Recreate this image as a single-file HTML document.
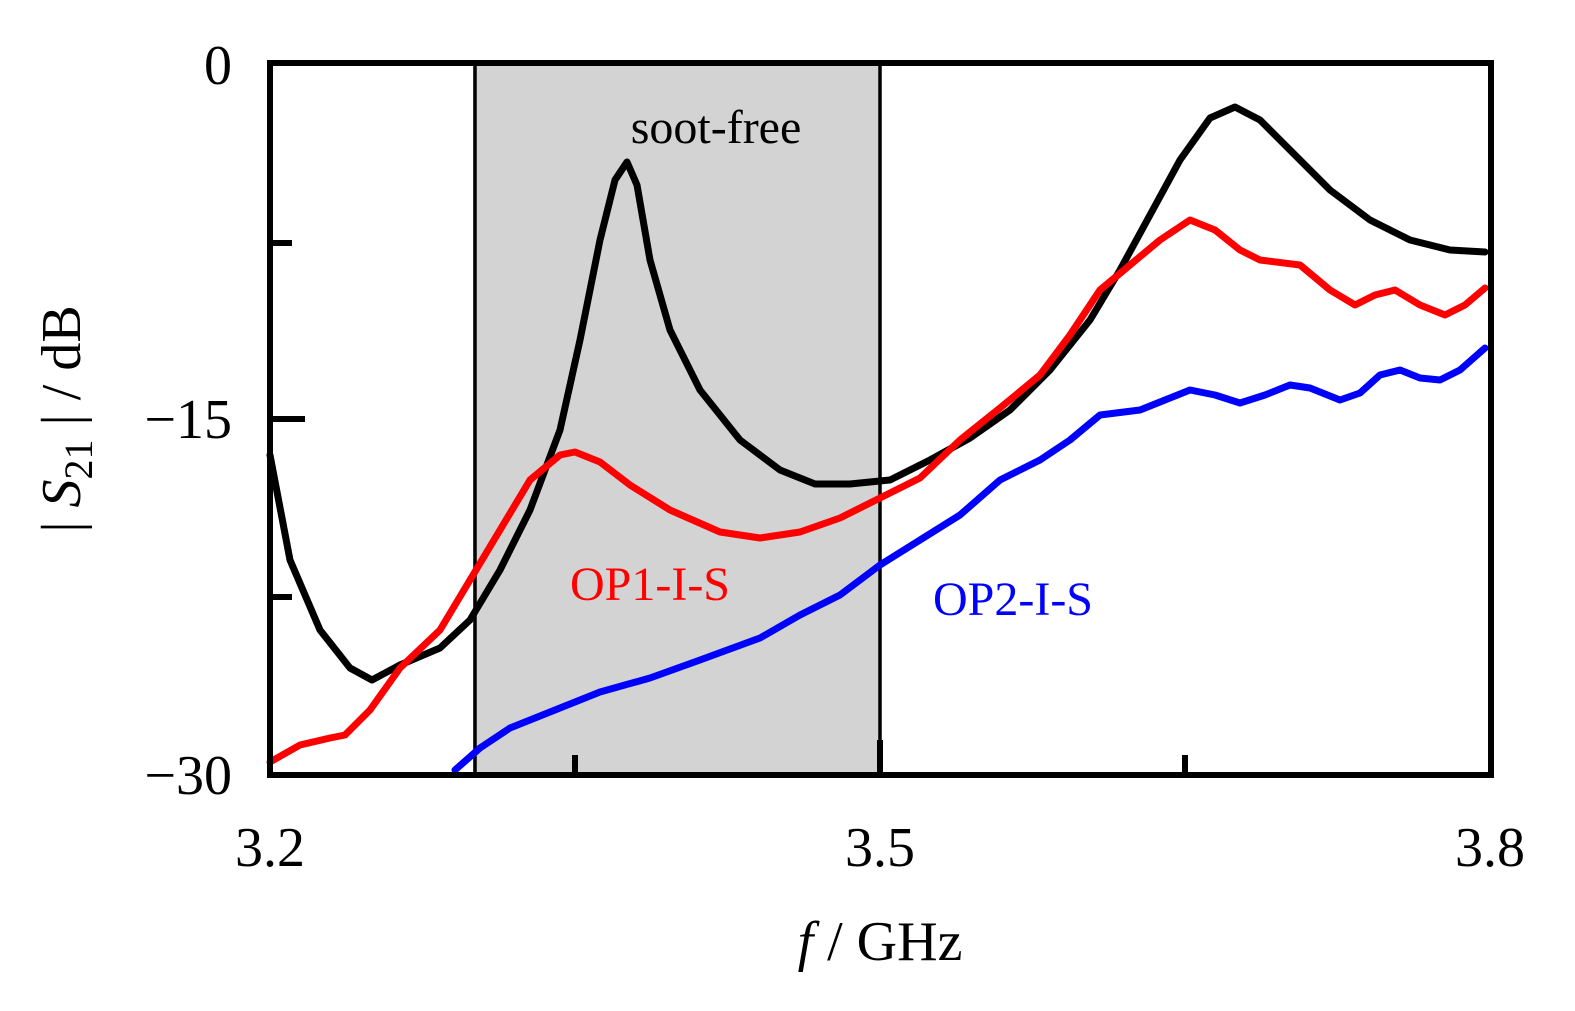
<!DOCTYPE html>
<html><head><meta charset="utf-8"><style>html,body{margin:0;padding:0;background:#fff}svg{display:block}</style></head><body>
<svg width="1575" height="1011" viewBox="0 0 1575 1011" xmlns="http://www.w3.org/2000/svg" font-family="'Liberation Serif', serif">
<rect x="473" y="63" width="407" height="712" fill="#d3d3d3"/>
<line x1="475" y1="63" x2="475" y2="775" stroke="#000" stroke-width="3.5"/>
<line x1="880" y1="63" x2="880" y2="775" stroke="#000" stroke-width="3.5"/>
<g fill="none" stroke-width="7" stroke-linejoin="round" stroke-linecap="round">
<polyline stroke="#000" points="270,455 290,560 320,630 350,668 372,680 400,665 440,648 470,620 500,570 530,510 560,430 580,340 600,240 615,180 627,162 637,185 650,260 670,330 700,390 740,440 780,470 815,484 850,484 890,480 930,460 970,438 1010,410 1050,370 1090,320 1120,270 1150,215 1180,160 1210,118 1235,107 1260,120 1290,150 1330,190 1370,220 1410,240 1450,250 1485,252"/>
<polyline stroke="#f00" points="270,762 300,745 330,738 345,735 370,710 400,668 440,630 470,580 500,530 530,480 560,455 575,452 600,462 630,485 670,510 720,532 760,538 800,532 840,518 880,498 920,478 960,440 1000,408 1040,375 1070,335 1100,290 1130,265 1160,240 1190,220 1215,230 1240,250 1260,260 1300,265 1330,290 1355,305 1375,295 1395,290 1420,305 1445,315 1465,305 1485,288"/>
<polyline stroke="#00f" points="455,770 480,748 510,728 550,712 600,692 650,678 700,660 760,638 800,615 840,595 880,565 920,540 960,515 1000,480 1040,460 1070,440 1100,415 1140,410 1170,398 1190,390 1215,395 1240,403 1265,395 1290,385 1310,388 1340,400 1360,393 1380,375 1400,370 1420,378 1440,380 1460,370 1485,348"/>
</g>
<rect x="270" y="63" width="1221" height="712" fill="none" stroke="#000" stroke-width="6"/>
<g stroke="#000" stroke-width="6">
<line x1="270" y1="243" x2="292" y2="243"/><line x1="270" y1="419" x2="305" y2="419"/><line x1="270" y1="597" x2="292" y2="597"/>
<line x1="575" y1="775" x2="575" y2="755"/><line x1="1185" y1="775" x2="1185" y2="755"/><line x1="880" y1="775" x2="880" y2="740"/>
</g>
<g font-size="56" fill="#000">
<text x="232" y="84" text-anchor="end">0</text>
<text x="232" y="438" text-anchor="end">−15</text>
<text x="232" y="794" text-anchor="end">−30</text>
<text x="270" y="866" text-anchor="middle">3.2</text>
<text x="880" y="866" text-anchor="middle">3.5</text>
<text x="1490" y="866" text-anchor="middle">3.8</text>
<text x="880" y="960" text-anchor="middle"><tspan font-style="italic">f</tspan> / GHz</text>
<text transform="translate(80,419) rotate(-90)" text-anchor="middle">| <tspan font-style="italic">S</tspan><tspan font-size="40" dy="12">21</tspan><tspan dy="-12"> | / dB</tspan></text>
</g>
<text x="716" y="143" font-size="48" text-anchor="middle">soot-free</text>
<text x="650" y="600" font-size="48" text-anchor="middle" fill="#f00">OP1-I-S</text>
<text x="1013" y="615" font-size="48" text-anchor="middle" fill="#00f">OP2-I-S</text>
</svg>
</body></html>
